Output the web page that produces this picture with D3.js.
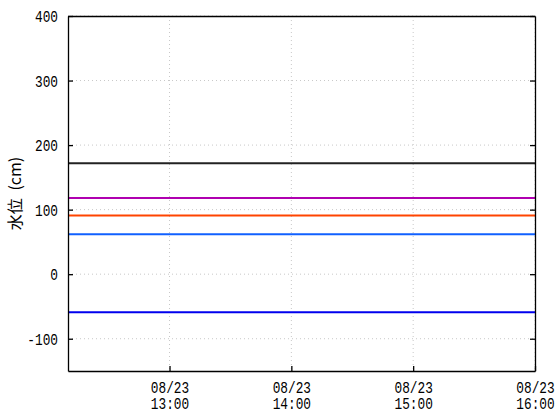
<!DOCTYPE html>
<html><head><meta charset="utf-8">
<script src="https://cdn.jsdelivr.net/npm/d3@7"></script>
<style>body{margin:0;background:#fff}svg{display:block}</style>
</head><body>
<script>
const timeStart = "2023-08-23T12:10";
const timeEnd = "2023-08-23T16:00";
const xTicks = ["2023-08-23T13:00","2023-08-23T14:00","2023-08-23T15:00","2023-08-23T16:00"];
const yTicks = [-100,0,100,200,300,400];
const yDomain = [-150,400];
const seriesNames = ["s1","s2","s3","s4","s5"];
const seriesValues = [172,118,91,62,-59];
const seriesColors = ["#222222","#b000b0","#ff4400","#1060ff","#0000ee"];
const yLabel = "水位 (cm)";

const W=560,H=420,m={l:68,r:25,t:16,b:49};
const svg=d3.select("body").append("svg").attr("width",W).attr("height",H);
const parse=d3.timeParse("%Y-%m-%dT%H:%M");
const x=d3.scaleTime().domain([parse(timeStart),parse(timeEnd)]).range([m.l,W-m.r]);
const y=d3.scaleLinear().domain(yDomain).range([H-m.b,m.t]);
const numFont="'Liberation Mono', 'DejaVu Sans Mono', monospace";
const cjkFont="'Noto Sans CJK JP', 'DejaVu Sans', sans-serif";

// grid
const g=svg.append("g");
yTicks.forEach(v=>{
  g.append("line").attr("x1",m.l).attr("x2",W-m.r).attr("y1",y(v)).attr("y2",y(v))
   .attr("stroke","#c8c8c8").attr("stroke-dasharray","1,3");
});
xTicks.forEach(t=>{
  const xv=x(parse(t));
  g.append("line").attr("x1",xv).attr("x2",xv).attr("y1",m.t).attr("y2",H-m.b)
   .attr("stroke","#c8c8c8").attr("stroke-dasharray","1,3");
});

// series
seriesValues.forEach((v,i)=>{
  svg.append("path").datum([parse(timeStart),parse(timeEnd)])
    .attr("d",d3.line().x(d=>x(d)).y(()=>y(v)))
    .attr("stroke",seriesColors[i]).attr("stroke-width",2).attr("fill","none");
});

// axes with inward ticks
const yl=svg.append("g").attr("transform",`translate(${m.l},0)`)
  .call(d3.axisLeft(y).tickValues(yTicks).tickSizeInner(-5).tickSizeOuter(0).tickFormat(""));
const yr=svg.append("g").attr("transform",`translate(${W-m.r},0)`)
  .call(d3.axisRight(y).tickValues(yTicks).tickSizeInner(-5).tickSizeOuter(0).tickFormat(""));
const xb=svg.append("g").attr("transform",`translate(0,${H-m.b})`)
  .call(d3.axisBottom(x).tickValues(xTicks.map(parse)).tickSizeInner(-5).tickSizeOuter(0).tickFormat(""));
const xt=svg.append("g").attr("transform",`translate(0,${m.t})`)
  .call(d3.axisTop(x).tickValues([]).tickSizeOuter(0));
[yl,yr,xb,xt].forEach(a=>{
  a.selectAll(".domain").attr("stroke","#000").attr("stroke-width",1.3);
  a.selectAll(".tick line").attr("stroke","#000").attr("stroke-width",1.3);
});
yl.selectAll(".tick").each(function(d){
  d3.select(this).append("text").attr("transform","translate(-10,0) scale(0.8,1)")
    .attr("text-anchor","end").attr("dy","0.36em").attr("font-family",numFont)
    .attr("font-size",16).attr("fill","#000").text(d);
});
xb.selectAll(".tick").each(function(d){
  const s=d3.select(this);
  s.append("text").attr("transform","translate(0,22) scale(0.8,1)").attr("fill","#000")
    .attr("font-family",numFont).attr("font-size",16).attr("text-anchor","middle")
    .text(d3.timeFormat("%m/%d")(d));
  s.append("text").attr("transform","translate(0,38) scale(0.8,1)").attr("fill","#000")
    .attr("font-family",numFont).attr("font-size",16).attr("text-anchor","middle")
    .text(d3.timeFormat("%H:%M")(d));
});

const lbl=svg.append("text").attr("transform",`translate(21,${(m.t+H-m.b)/2}) rotate(-90)`)
  .attr("text-anchor","middle").attr("font-family",cjkFont).attr("font-size",16)
  .attr("xml:space","preserve").style("white-space","pre");
const parts=yLabel.split(" ");
lbl.append("tspan").text(parts[0]+" ");
lbl.append("tspan").attr("dx",4).text(parts.slice(1).join(" "));
</script>
</body></html>
